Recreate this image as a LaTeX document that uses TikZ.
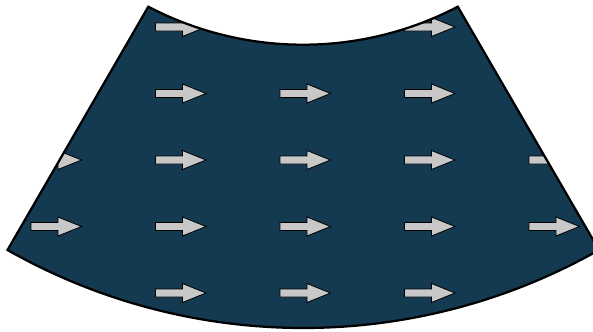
\documentclass[tikz,border=0pt]{standalone}
\usepackage{xcolor}
\usetikzlibrary{positioning}

\definecolor{fanblue}{RGB}{20,58,82}
\definecolor{flowgrey}{RGB}{200,200,200}

\begin{document}
\begin{tikzpicture}[
    x=0.025cm, y=0.025cm,
    fan/.style={fill=fanblue},
    rim/.style={draw=black, line width=1.6pt, line join=miter},
    flow/.style={draw=black, line width=0.6pt, fill=flowgrey},
]

\useasboundingbox (0,0) rectangle (593,331);

% the fan: two arcs joined by straight sides
\def\fanpath{(148.3,324.3) arc[start angle=242.4, end angle=297.6, radius=334]
    -- (599,81) arc[start angle=299.55, end angle=240.45, radius=599.7] -- cycle}

\fill[fan] \fanpath;

% grid of flow arrows, cut at the fan's edge
\begin{scope}
    \clip \fanpath;
    \foreach \col in {0,...,4}
        \foreach \row in {0,...,4}
            \draw[flow, shift={(31+124.5*\col, 304-66.5*\row)}]
                (0,-4) -- (27,-4) -- (27,-9.5) -- (50.5,0)
                -- (27,9.5) -- (27,4) -- (0,4) -- cycle;
\end{scope}

% outline on top
\draw[rim] \fanpath;

\end{tikzpicture}
\end{document}
